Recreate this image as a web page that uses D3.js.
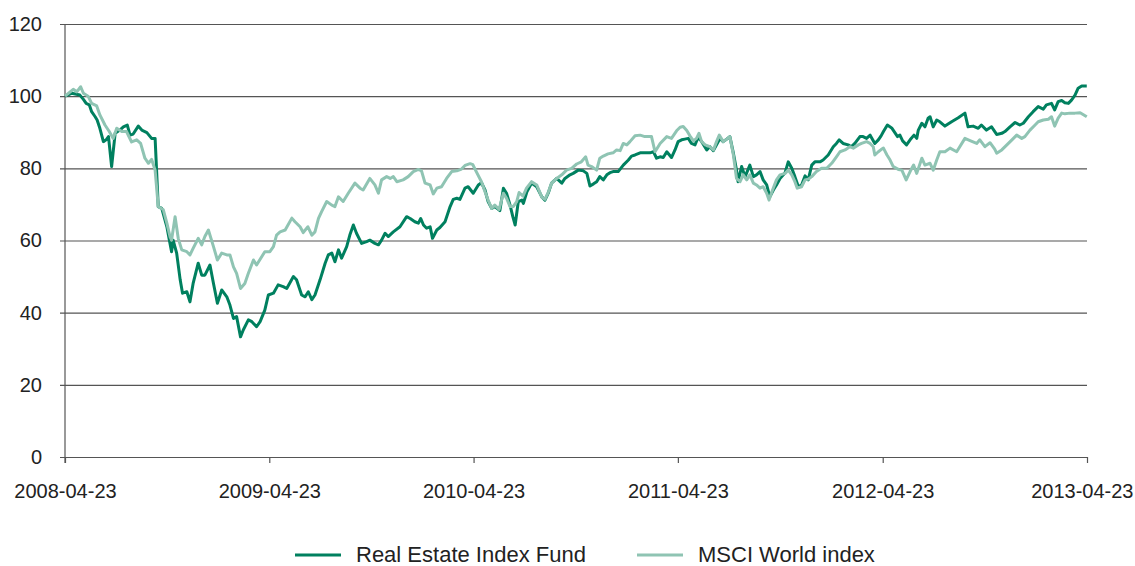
<!DOCTYPE html>
<html>
<head>
<meta charset="utf-8">
<script src="https://cdn.jsdelivr.net/npm/d3@7"></script>
<style>
  html, body { margin: 0; padding: 0; background: #fff; }
  text { font-family: "Liberation Sans", Arial, Helvetica, sans-serif; fill: #222; }
</style>
</head>
<body>
<div id="chart"></div>
<script>
// weeks after 2008-04-23, value indexed to 100
var reWeeks = [0,1.7,3.8,4.7,5.4,6.2,6.8,7.7,8.2,8.9,9.8,10.5,11.1,11.9,12.8,14,14.9,15.9,16.6,17.4,18.7,19.6,20.9,22.1,23,
  23.8,24.7,26,26.8,27.2,27.6,28.5,29.4,30,31.1,31.9,32.7,34,34.9,35.7,37,37.9,38.9,40,41.3,42.1,43,43.8,44.8,45.5,46.8,47.7,48.9,49.8,
  51,51.9,53.2,54.4,55.7,56.6,58.3,59.1,60.4,61.3,62.1,63,63.8,65.1,66.4,67.2,68.1,68.9,69.8,70.6,71.9,72.7,73.6,74.4,75.7,77,77.8,
  79.1,80,80.8,81.7,82.5,83.8,85.5,87.2,88.1,89.3,90.2,90.8,91.5,92.3,93.2,93.8,94.9,95.7,97,98.3,99.1,100,100.8,102.1,102.9,104.2,
  105.5,106.3,107.2,108,108.9,109.7,111,111.9,112.7,113.6,114.3,114.9,115.7,116.6,117,117.9,119.1,120.4,121.7,122.5,123.4,124.2,125.5,
  126.8,127.6,128.9,129.7,131,132.3,133.2,134,134.9,135.7,136.5,137.4,138.3,139.1,139.9,141.2,142.5,143.8,144.6,145.5,146.8,148,149.3,
  150.2,151,151.9,152.7,153.6,154.8,155.7,156.5,157.4,158.2,159.1,159.9,160.8,161.6,162.5,163.8,164.6,165.5,166.3,167.2,168,168.9,
  169.7,170.6,171.4,171.8,172.7,173.6,174.8,175.7,176.5,177.4,178.2,179.1,179.9,180.8,181.6,182.5,183.8,184.6,185.5,186.3,187.2,188,
  188.9,189.7,190.6,191.4,192.7,193.5,194.8,196.1,196.9,197.6,198.6,199.9,200.7,201.6,202.9,203.7,204.6,205.5,206.7,207.6,208.3,208.9,
  209.9,211,212.5,213.1,213.8,214.8,215.7,216.7,217.4,217.8,218.7,219.5,220.3,220.8,221.6,222.5,223.3,224.6,226.3,228,229.7,230.5,
  231.8,233.1,233.9,235.2,236.5,237.8,239.1,239.9,241.2,242.5,243.7,244.6,245.9,247.1,248.4,249.7,250.5,251.8,252.6,253.5,254.4,255.2,
  256.1,256.9,257.8,258.6,259.5,260.8];
var reValues = [100,100.8,100.3,99.1,98,97.6,95.7,94.3,93.4,91.1,87.4,87.9,88.8,80.5,89.7,90.6,91.5,92,89.2,89.5,91.7,90.6,89.9,88.3,88.3,
  69.4,68.9,63.8,59.2,56.9,60.1,56.5,49.1,45.4,45.8,43,48.1,53.7,50.4,50.4,53.2,48.1,42.6,46.3,44.4,42.1,38.4,38.9,33.3,35.2,38,37.5,36.1,37.5,
  40.7,44.9,45.4,47.7,47.2,46.7,50,49.1,44.9,44.4,45.8,43.6,44.9,49.1,53.7,56,56.5,54.1,57.4,55.1,58.3,61.5,64.3,62,59.2,59.7,60.1,
  59.2,58.8,60.1,62,61.1,62.4,63.8,66.6,66.1,65.2,64.8,66.1,64.3,63.4,63.8,60.6,62.9,63.6,65.2,69.4,71.4,71.7,71.4,74.5,74.9,73.1,
  75.4,76,74,70.8,68.9,69.4,68.3,74.5,73.1,69.8,66.6,64.3,70.8,71.2,70.3,73.5,75.9,74.9,72.1,71.2,73.3,75.9,77.2,
  75.9,77.2,78.2,78.6,79.5,79.3,78.6,75.1,75.7,76.3,77.7,76.8,78.2,78.8,79.1,79.1,80.9,82.3,83.4,83.7,84.3,84.3,84.3,
  84.6,82.8,83.2,83,84.6,83,85.1,87.4,87.9,88.1,88.3,86.9,86.5,88.6,87.4,85.1,86,84.9,86.5,88.3,87.4,88.1,
  88.8,84.2,79.5,76.3,80.5,77.7,80.9,77.7,78.2,79.1,76.8,75.4,72.1,74,75.4,77.2,78.8,81.8,80,77.7,74.9,75.4,
  77.9,76.8,80.9,81.8,81.8,82.3,83.7,86,86.9,87.9,86.9,86.5,86,86.9,88.8,88.8,88.3,89.2,86.9,87.9,89,90.2,
  92,91.2,88.8,89.2,87.6,86.5,87.9,89.2,88.3,90.6,92.5,91.5,93.9,94.3,91.5,93.4,92.9,91.7,92.9,94,95.3,91.5,
  91.7,91.1,92,90.6,91.5,89.4,89.7,90.2,91.5,92.7,92,92.5,94.3,95.7,97.1,96.4,97.6,98,96.2,98.5,98.8,98.2,
  98,98.9,100.3,102.2,102.8,102.8];

var msciWeeks = [0,2.1,3,4,4.7,5.9,6.8,8.1,8.9,10.2,11.3,12.3,13.2,14.5,15.7,17,18.3,19.3,20.4,21.3,22.1,23,
  23.8,25.1,26,26.8,27.2,28.1,28.9,29.8,31.1,31.9,32.7,34,34.9,35.7,36.6,37.9,38.9,40,41.3,42.1,43,43.8,44.8,45.9,46.8,48.1,48.9,
  51,52.3,53.2,54,54.9,56.2,57.9,58.7,60,60.8,62,63,63.8,64.7,65.5,66.8,68.1,68.9,69.8,71,72.3,74,75.3,76.1,77.8,79.1,80,80.8,
  82.1,83,83.8,84.7,86.3,87.6,88.9,90.2,91,91.9,93.2,94,94.9,96.1,97.4,98.7,100,101.2,102.1,103.4,104.1,105.1,106.3,107.2,108,
  108.9,109.7,110.8,111.9,112.7,113.6,114.4,115.3,115.9,116.9,117.8,119.1,120.4,121.7,122.5,123.4,124.2,125.5,126.8,128,129.3,130.6,
  131.8,132.9,133.5,134.4,135.7,136.5,137.4,138.6,139.9,140.8,141.7,142.5,143.4,144.2,145.5,146.8,148,149.7,150.6,151.9,153.6,154.8,
  156.1,157,157.8,158.7,159.5,160.4,161.2,161.8,162.5,163.4,164.6,165.5,166.3,167,168,168.9,169.7,170.6,171.4,172.3,173.1,174,174.8,
  175.7,176.5,177.4,178.2,179.1,179.7,180.6,181.6,182.5,183.8,184.6,185.5,186.3,186.9,188,188.9,189.7,190.6,191.8,193.1,194.4,195.7,
  196.9,197.8,199.1,200.3,201.2,202.5,203.3,204.6,205.5,206.3,206.7,207.6,208.3,208.9,209.8,210.6,211.4,212.7,213.6,214.7,215.7,216.6,
  217.4,218.7,219.5,220.8,221.6,222.5,223.3,224.6,225.9,227.6,229.7,231,232.7,233.5,234.8,236.1,237.3,237.8,239.1,240.4,241.7,242.9,
  244.2,245,246.3,247.6,248.4,249.7,251,251.8,252.6,253.5,254.4,255.2,256.5,257.8,259.1,260.8];
var msciValues = [100,101.9,101.2,102.6,100.8,100,98,97.3,94.8,92,90.2,88.3,91.1,90.2,90.2,87.3,87.9,86.9,82.8,81.4,82.5,79.5,
  69.4,68.5,64.8,61.1,60.1,66.6,60.6,57.4,56.9,56,57.8,60.6,58.8,61.1,62.9,58.3,54.6,56.5,56,56,52.7,50.9,46.7,48.1,50.9,54.6,53.2,
  56.9,56.9,58.3,61.5,62.4,62.9,66.2,65.2,63.8,62.2,63.8,61.5,62.4,66.1,68,70.8,69.8,69.4,72.1,70.8,73.1,75.9,74.5,74,77.2,75.4,73.1,76.8,
  77.7,77.2,77.7,76.3,76.8,77.7,79.1,79.7,79.3,75.9,75.4,72.9,74.5,74.9,77.2,79.1,79.3,79.8,80.8,81.3,81,78.8,76.3,73.5,71.2,
  68.9,69.8,68.6,73.1,71.7,69.4,69.4,70.8,73.3,72.3,74.5,76.3,75.4,72,71.4,73.5,75.9,77.2,78.2,79.5,80,81.2,
  81.8,83.2,80.9,80.5,79.5,82.8,83.4,84,84.3,85.1,84.9,86.9,86.5,87.4,89,89.2,88.8,88.8,84.6,86.9,88.8,88.3,
  90.4,91.4,91.6,90.5,89,87.6,88.3,89.7,87.4,86.5,86,85.1,87.4,89.2,87.4,88.1,88.8,83.7,77.2,76.3,78.2,76.8,78.2,
  75.9,75.4,74.5,74.9,73.1,71.2,74,76.8,78.2,78.6,79.5,78.2,76.3,74.5,74.9,76.8,77,77.7,79.1,80,80,81.4,
  83.2,84.6,85.1,86,85.6,86.5,86.9,87.4,86.9,86,83.7,84.6,85.2,85.6,83.7,82.3,80.5,79.7,79.5,76.8,79.1,80.9,
  78.6,82.8,80.9,81.4,79.5,82.3,84.6,84.6,85.6,84.6,88.3,87.7,86.9,87.9,86,87.1,85.3,84.2,85.1,86.5,87.9,89.2,
  88.3,88.8,90.6,92,92.9,93.4,93.6,94.3,91.7,93.9,95.3,95.1,95.3,95.3,95.4,94.3];

var yTicks = [0, 20, 40, 60, 80, 100, 120];
var seriesNames = ["Real Estate Index Fund", "MSCI World index"];
var seriesColors = ["#00805f", "#8fc4b3"];

var W = 1135, H = 566;
var mLeft = 65, mRight = 1087, mTop = 24, mBottom = 457;
var start = new Date(2008, 3, 23), end = new Date(2013, 3, 23);

function weekDate(w) { return new Date(start.getTime() + w * 7 * 864e5); }

var x = d3.scaleTime().domain([start, end]).range([mLeft, mRight]);
var y = d3.scaleLinear().domain([0, 120]).range([mBottom, mTop]);

var svg = d3.select("#chart").append("svg")
    .attr("width", W)
    .attr("height", H);

// horizontal grid + y labels
var yAxis = svg.append("g")
    .attr("transform", "translate(" + mLeft + ",0)")
    .call(d3.axisLeft(y).tickValues(yTicks).tickSize(5).tickPadding(23).tickFormat(d3.format("d")));
yAxis.select(".domain").remove();
yAxis.selectAll(".tick line")
    .attr("x2", mRight - mLeft)
    .attr("x1", -5)
    .attr("stroke", "#555")
    .attr("stroke-width", 1.2);
yAxis.selectAll(".tick text")
    .style("font-size", "20px")
    .attr("x", -23)
    .attr("fill", "#222");

// x axis
var xTicks = d3.range(0, 6).map(function(i) { return d3.timeYear.offset(start, i); });
var xAxis = svg.append("g")
    .attr("transform", "translate(0," + mBottom + ")")
    .call(d3.axisBottom(x).tickValues(xTicks).tickSize(6).tickPadding(21).tickFormat(d3.timeFormat("%Y-%m-%d")));
xAxis.select(".domain").remove();
xAxis.selectAll(".tick line").attr("stroke", "#555").attr("stroke-width", 1.2);
xAxis.selectAll(".tick text")
    .style("font-size", "20px")
    .attr("fill", "#222")
    .attr("text-anchor", function(d, i) { return i === xTicks.length - 1 ? "end" : "middle"; })
    .attr("dx", function(d, i) { return i === xTicks.length - 1 ? "46px" : 0; });

// y axis line
svg.append("line")
    .attr("x1", mLeft).attr("x2", mLeft)
    .attr("y1", mTop).attr("y2", mBottom + 6)
    .attr("stroke", "#555")
    .attr("stroke-width", 1.2);

var line = d3.line()
    .x(function(d) { return x(weekDate(d[0])); })
    .y(function(d) { return y(d[1]); });

var re = d3.zip(reWeeks, reValues);
var msci = d3.zip(msciWeeks, msciValues);

svg.append("path")
    .datum(re)
    .attr("fill", "none")
    .attr("stroke", seriesColors[0])
    .attr("stroke-width", 3)
    .attr("stroke-linejoin", "round")
    .attr("d", line);

svg.append("path")
    .datum(msci)
    .attr("fill", "none")
    .attr("stroke", seriesColors[1])
    .attr("stroke-width", 3)
    .attr("stroke-linejoin", "round")
    .attr("d", line);

// legend
var legendX = [295, 637];
var legend = svg.selectAll(".legend")
    .data(seriesNames)
    .enter().append("g")
    .attr("class", "legend")
    .attr("transform", function(d, i) { return "translate(" + legendX[i] + ",555)"; });

legend.append("line")
    .attr("x1", 0).attr("x2", 46)
    .attr("stroke", function(d, i) { return seriesColors[i]; })
    .attr("stroke-width", 3);

legend.append("text")
    .attr("x", 61)
    .attr("y", 7)
    .style("font-size", "22px")
    .text(function(d) { return d; });
</script>
</body>
</html>
